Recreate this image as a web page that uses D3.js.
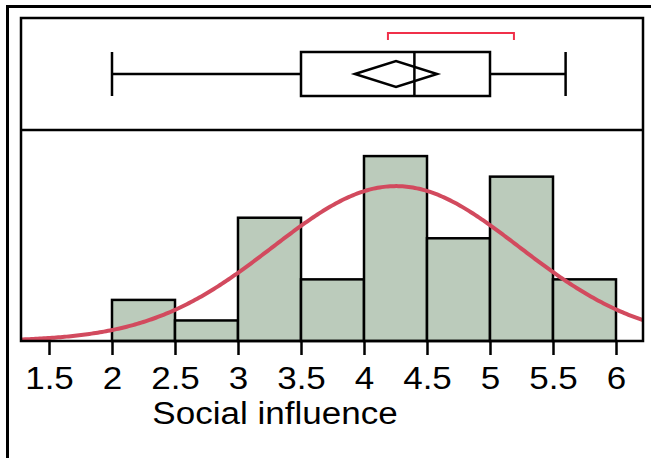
<!DOCTYPE html>
<html>
<head>
<meta charset="utf-8">
<script src="https://cdn.jsdelivr.net/npm/d3@7"></script>
<style>
  body { margin: 0; background: #fff; }
  svg { display: block; font-family: "Liberation Sans", Arial, sans-serif; }
</style>
</head>
<body>
<div id="chart"></div>
<script>
// histogram bins (width 0.5) and counts
var binStarts = [2, 2.5, 3, 3.5, 4, 4.5, 5, 5.5];
var counts = [2, 1, 6, 3, 9, 5, 8, 3];
var binWidth = 0.5;

// box plot summary
var whiskerLow = 2.0;
var q1 = 3.5;
var median = 4.4;
var q3 = 5.0;
var whiskerHigh = 5.6;

// mean and 95% CI of mean (diamond), normal fit
var mean = 4.254;
var sd = 0.979;
var ciLow = 3.928;
var ciHigh = 4.58;

// shortest half bracket
var shortHalf = [4.19, 5.19];

var tickValues = [1.5, 2, 2.5, 3, 3.5, 4, 4.5, 5, 5.5, 6];

var W = 651, H = 458;
var panel = { left: 21, right: 643, top: 18, mid: 130, bottom: 341 };
var fontSize = 31, stretch = "scale(1.13,1)";

var svg = d3.select("#chart").append("svg")
  .attr("width", W)
  .attr("height", H);

var x = d3.scaleLinear()
  .domain([2, 6])
  .range([112, 616]);

var y = d3.scaleLinear()
  .domain([0, 10.27])
  .range([panel.bottom, panel.mid]);

// outer frame (runs off the right and bottom)
svg.append("path")
  .attr("d", `M7.5,${H + 5} V6.5 H${W + 5}`)
  .attr("fill", "none")
  .attr("stroke", "#000")
  .attr("stroke-width", 3);

// histogram bars
svg.selectAll(".bar")
  .data(binStarts.map((d, i) => ({ x0: d, n: counts[i] })))
  .enter()
  .append("rect")
  .attr("class", "bar")
  .attr("x", (d) => x(d.x0))
  .attr("y", (d) => y(d.n))
  .attr("width", (d) => x(d.x0 + binWidth) - x(d.x0))
  .attr("height", (d) => y(0) - y(d.n))
  .attr("fill", "#bbcbbb")
  .attr("stroke", "#000")
  .attr("stroke-width", 2.5);

// normal density curve
var total = d3.sum(counts);
var xs = d3.range(0, 301).map((i) => x.invert(panel.left + (panel.right - panel.left) * i / 300));
var normal = (v) => total * binWidth / (sd * Math.sqrt(2 * Math.PI)) *
  Math.exp(-((v - mean) ** 2) / (2 * sd * sd));

svg.append("defs").append("clipPath").attr("id", "clip")
  .append("rect")
  .attr("x", panel.left).attr("y", panel.mid)
  .attr("width", panel.right - panel.left).attr("height", panel.bottom - panel.mid);

svg.append("path")
  .datum(xs)
  .attr("clip-path", "url(#clip)")
  .attr("d", d3.line().x((d) => x(d)).y((d) => y(normal(d))))
  .attr("fill", "none")
  .attr("stroke", "#d24a5e")
  .attr("stroke-width", 4);

// panel frames
svg.append("rect")
  .attr("x", panel.left).attr("y", panel.top)
  .attr("width", panel.right - panel.left).attr("height", panel.bottom - panel.top)
  .attr("fill", "none")
  .attr("stroke", "#000")
  .attr("stroke-width", 2.5);
svg.append("line")
  .attr("x1", panel.left).attr("x2", panel.right)
  .attr("y1", panel.mid).attr("y2", panel.mid)
  .attr("stroke", "#000")
  .attr("stroke-width", 2.5);

// box plot
var by = 74, bh = 22;
var box = svg.append("g")
  .attr("fill", "none")
  .attr("stroke", "#000")
  .attr("stroke-width", 2.5);
box.append("line").attr("x1", x(whiskerLow)).attr("x2", x(q1)).attr("y1", by).attr("y2", by);
box.append("line").attr("x1", x(q3)).attr("x2", x(whiskerHigh)).attr("y1", by).attr("y2", by);
box.append("line").attr("x1", x(whiskerLow)).attr("x2", x(whiskerLow)).attr("y1", by - bh).attr("y2", by + bh);
box.append("line").attr("x1", x(whiskerHigh)).attr("x2", x(whiskerHigh)).attr("y1", by - bh).attr("y2", by + bh);
box.append("rect")
  .attr("x", x(q1)).attr("y", by - bh)
  .attr("width", x(q3) - x(q1)).attr("height", 2 * bh);
box.append("line").attr("x1", x(median)).attr("x2", x(median)).attr("y1", by - bh).attr("y2", by + bh);
box.append("path")
  .attr("d", `M${x(ciLow)},${by} L${x(mean)},${by - 13} L${x(ciHigh)},${by} L${x(mean)},${by + 13} Z`);

// shortest half bracket
svg.append("path")
  .attr("d", `M${x(shortHalf[0])},40 V33 H${x(shortHalf[1])} V40`)
  .attr("fill", "none")
  .attr("stroke", "#f0304a")
  .attr("stroke-width", 2);

// x axis
var axis = svg.append("g")
  .attr("transform", `translate(0,${panel.bottom})`)
  .call(d3.axisBottom(x).tickValues(tickValues).tickSize(14).tickFormat(d3.format("")));
axis.select(".domain").remove();
axis.selectAll(".tick line").attr("stroke-width", 2.5);
axis.selectAll(".tick text")
  .attr("y", 26)
  .attr("transform", stretch)
  .attr("font-size", fontSize)
  .attr("font-family", "Liberation Sans, Arial, sans-serif")
  .attr("fill", "#000");

svg.append("g")
  .attr("transform", "translate(275,424)")
  .append("text")
  .attr("transform", stretch)
  .attr("text-anchor", "middle")
  .attr("font-size", fontSize)
  .attr("fill", "#000")
  .text("Social influence");
</script>
</body>
</html>
